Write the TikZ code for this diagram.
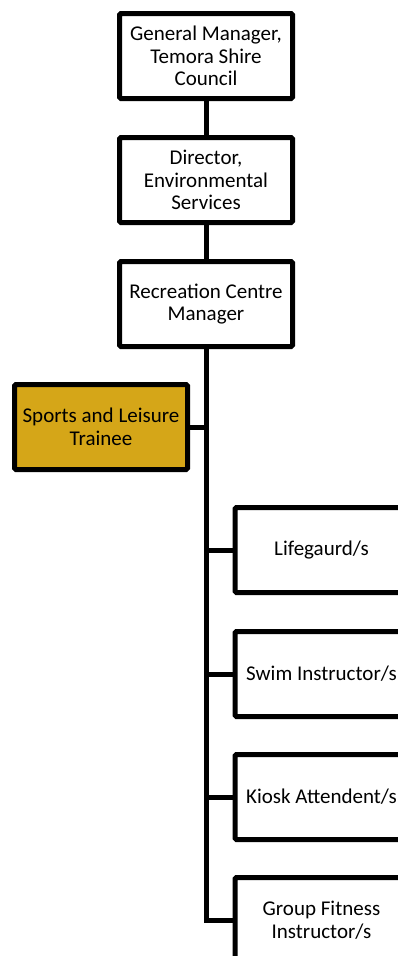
\documentclass[tikz,border=0pt]{standalone}
\usepackage{fontspec}
\setmainfont{Carlito}
\definecolor{gold}{HTML}{D5A618}
\tikzset{
  box/.style={draw=black, line width=5pt, rectangle, rounded corners=1.5pt, fill=white,
    minimum width=173pt, minimum height=85pt, inner sep=0pt, align=center,
    font=\fontsize{21}{22.5}\selectfont, text=black},
  conn/.style={draw=black, line width=5pt}
}
\begin{document}
\begin{tikzpicture}[x=1pt,y=-1pt]
\useasboundingbox (0,0) rectangle (398,956);
\clip (0,0) rectangle (398,956);
\coordinate (trunkend) at (206,920);
\node[box] (gm) at (206,56) {General Manager,\\Temora Shire\\Council};
\node[box] (dir) at (206,180) {Director,\\Environmental\\Services};
\node[box] (rcm) at (206,304) {Recreation Centre\\Manager};
\node[box, fill=gold] (slt) at (101,427) {Sports and Leisure\\Trainee};
\node[box, anchor=west] (lg) at (232.5,550) {Lifegaurd/s};
\node[box, anchor=west] (si) at (232.5,674) {Swim Instructor/s};
\node[box, anchor=west] (ka) at (232.5,797) {Kiosk Attendent/s};
\node[box, anchor=west] (gf) at (232.5,920) {Group Fitness\\Instructor/s};
\begin{scope}[on background layer/.try]
\end{scope}
\draw[conn] (gm.south) -- (dir.north);
\draw[conn] (dir.south) -- (rcm.north);
\draw[conn, line cap=rect] (rcm.south) -- (trunkend) -- (gf.west);
\draw[conn] (slt.east) -- (slt.east -| rcm.south);
\draw[conn] (lg.west -| rcm.south) -- (lg.west);
\draw[conn] (si.west -| rcm.south) -- (si.west);
\draw[conn] (ka.west -| rcm.south) -- (ka.west);
\end{tikzpicture}
\end{document}
